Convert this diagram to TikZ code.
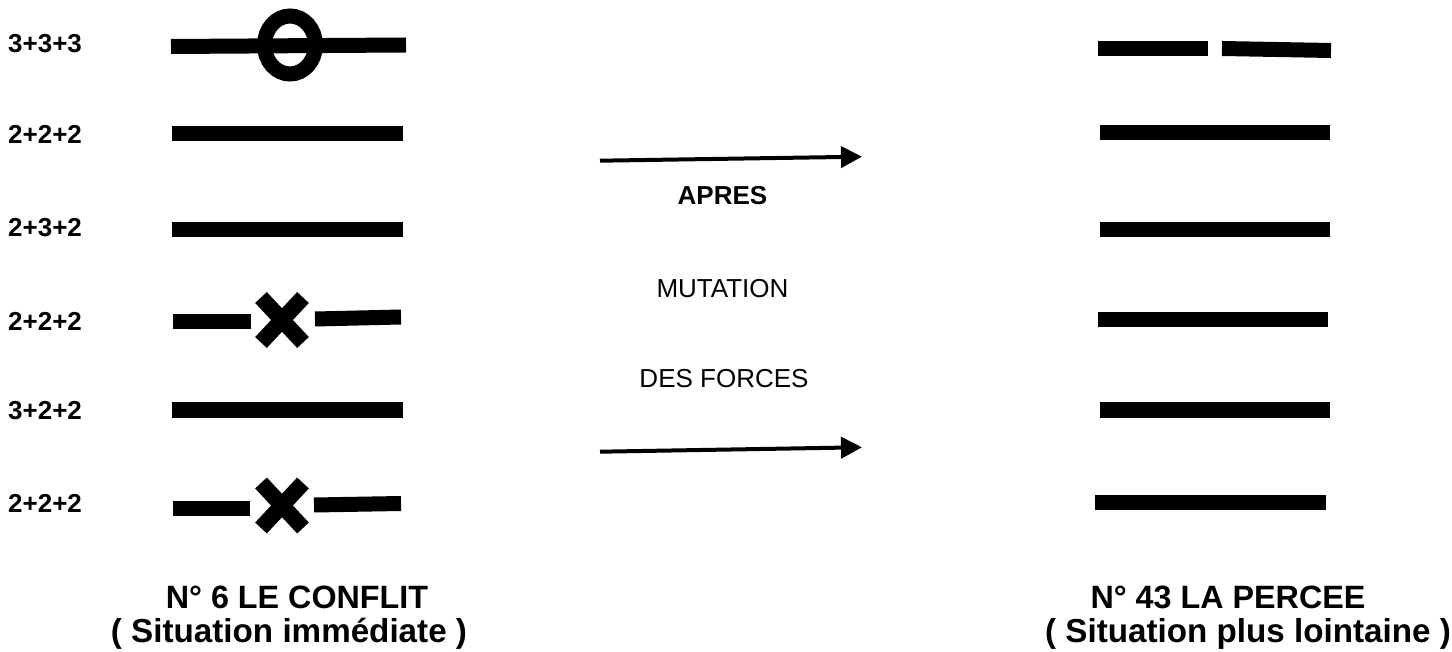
\documentclass[tikz,border=0pt]{standalone}
\usepackage{fontspec}
\setmainfont{Liberation Sans}
\usetikzlibrary{arrows.meta}
\begin{document}
\begin{tikzpicture}[x=1pt,y=-1pt,
  bar/.style={line width=15pt, line cap=butt},
  cross/.style={line width=16pt, line cap=butt},
  lbl/.style={anchor=base west, font=\bfseries\fontsize{26}{30}\selectfont, inner sep=0pt},
  mid/.style={anchor=base, font=\fontsize{26}{30}\selectfont, inner sep=0pt},
  captop/.style={anchor=base, font=\bfseries\fontsize{32.3}{36}\selectfont, inner sep=0pt},
  capbot/.style={anchor=base, font=\bfseries\fontsize{33.2}{36}\selectfont, inner sep=0pt},
  arr/.style={line width=4pt, -{Triangle[length=21pt,width=21pt]}}]
\useasboundingbox (0,0) rectangle (1452,652);
% row labels
\node[lbl] (l1) at (8,53) {3+3+3};
\node[lbl] (l2) at (8,144) {2+2+2};
\node[lbl] (l3) at (8,237) {2+3+2};
\node[lbl] (l4) at (8,331) {2+2+2};
\node[lbl] (l5) at (8,419) {3+2+2};
\node[lbl] (l6) at (8,512) {2+2+2};
% left hexagram
\draw[bar] (171,46.5) -- (406,45);
\draw[line width=15pt] (290,45) ellipse [x radius=25.5, y radius=29];
\draw[bar] (172,134) -- (403,134);
\draw[bar] (172,230) -- (403,230);
\draw[bar] (173,322) -- (251,322);
\draw[bar] (315,319) -- (401,317);
\draw[cross] (261,297.5) -- (303,342.5);
\draw[cross] (261,342.5) -- (303,297.5);
\draw[bar] (172,410) -- (403,410);
\draw[bar] (173,508) -- (250,508);
\draw[bar] (314,505) -- (401,503.5);
\draw[cross] (261,483) -- (303,528);
\draw[cross] (261,528) -- (303,483);
% right hexagram
\draw[bar] (1098,48.5) -- (1208,48.5);
\draw[bar] (1222,48.5) -- (1331,50.5);
\draw[bar] (1100,133) -- (1330,133);
\draw[bar] (1100,230) -- (1330,230);
\draw[bar] (1098,320) -- (1328,320);
\draw[bar] (1100,410) -- (1330,410);
\draw[bar] (1095,502.5) -- (1326,502.5);
% middle
\coordinate (a1s) at (600,160.7);
\coordinate (a1e) at (862,156.7);
\coordinate (a2s) at (600,451.7);
\coordinate (a2e) at (862,447.3);
\draw[arr] (a1s) -- (a1e);
\draw[arr] (a2s) -- (a2e);
\node[mid, font=\bfseries\fontsize{26}{30}\selectfont] (apres) at (722.5,205) {APRES};
\node[mid] (mut) at (722.5,298) {MUTATION};
\node[mid] (des) at (724,388) {DES FORCES};
% captions
\node[captop] (c1) at (297,608) {N° 6 LE CONFLIT};
\node[capbot] (c2) at (289,642) {( Situation immédiate )};
\node[captop] (c3) at (1228,608) {N° 43 LA PERCEE};
\node[capbot] (c4) at (1248,642) {( Situation plus lointaine )};
\end{tikzpicture}
\end{document}
